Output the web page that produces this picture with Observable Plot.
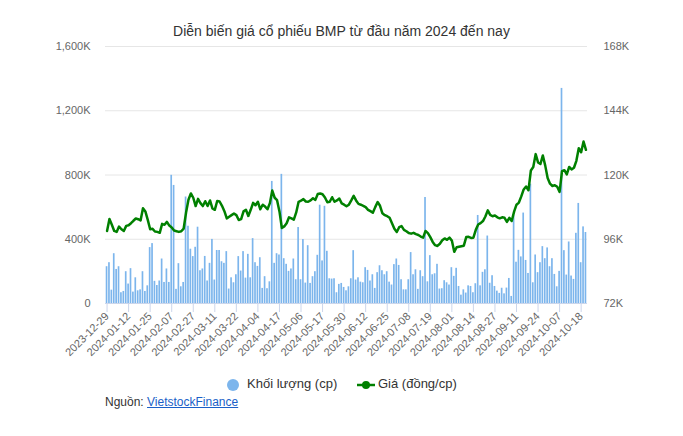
<!DOCTYPE html>
<html><head><meta charset="utf-8">
<script src="https://cdn.jsdelivr.net/npm/d3@7"></script>
<script src="https://cdn.jsdelivr.net/npm/@observablehq/plot@0.6"></script>
<style>
body{margin:0;background:#fff;font-family:"Liberation Sans",Arial,sans-serif;}
#wrap{position:relative;width:683px;height:436px;overflow:hidden;}
#title{position:absolute;top:23px;left:0;width:683px;text-align:center;font-size:14px;color:#333;z-index:2;}
#chart{position:absolute;top:36px;left:0;z-index:1;}
.leg{position:absolute;top:376px;font-size:13px;color:#333;white-space:nowrap;line-height:16px;}
.sym{position:absolute;}
#src{position:absolute;left:105px;top:395px;font-size:12px;color:#333;}
#src a{color:#1a5fc8;text-decoration:underline;}
</style></head>
<body><div id="wrap">
<div id="title">Diễn biến giá cổ phiếu BMP từ đầu năm 2024 đến nay</div>
<div id="chart"></div>
<svg class="sym" style="left:226px;top:378px" width="14" height="14"><circle cx="7" cy="7" r="6" fill="#7cb5ec"/></svg>
<div class="leg" style="left:247px">Khối lượng (cp)</div>
<svg class="sym" style="left:356px;top:378px" width="20" height="14"><line x1="1" y1="7" x2="19" y2="7" stroke="green" stroke-width="2.5"/><circle cx="10" cy="7" r="4" fill="green"/></svg>
<div class="leg" style="left:378px">Giá (đồng/cp)</div>
<div id="src">Nguồn: <a>VietstockFinance</a></div>
</div>
<script>
const dates = [
"2023-12-29",
"2024-01-02","2024-01-03","2024-01-04","2024-01-05","2024-01-08","2024-01-09","2024-01-10","2024-01-11","2024-01-12","2024-01-15","2024-01-16","2024-01-17","2024-01-18","2024-01-19","2024-01-22","2024-01-23","2024-01-24","2024-01-25","2024-01-26","2024-01-29","2024-01-30","2024-01-31",
"2024-02-01","2024-02-02","2024-02-05","2024-02-06","2024-02-07","2024-02-15","2024-02-16","2024-02-19","2024-02-20","2024-02-21","2024-02-22","2024-02-23","2024-02-26","2024-02-27","2024-02-28","2024-02-29",
"2024-03-01","2024-03-04","2024-03-05","2024-03-06","2024-03-07","2024-03-08","2024-03-11","2024-03-12","2024-03-13","2024-03-14","2024-03-15","2024-03-18","2024-03-19","2024-03-20","2024-03-21","2024-03-22","2024-03-25","2024-03-26","2024-03-27","2024-03-28","2024-03-29",
"2024-04-01","2024-04-02","2024-04-03","2024-04-04","2024-04-05","2024-04-08","2024-04-09","2024-04-10","2024-04-11","2024-04-12","2024-04-15","2024-04-16","2024-04-17","2024-04-19","2024-04-22","2024-04-23","2024-04-24","2024-04-25","2024-04-26",
"2024-05-02","2024-05-03","2024-05-06","2024-05-07","2024-05-08","2024-05-09","2024-05-10","2024-05-13","2024-05-14","2024-05-15","2024-05-16","2024-05-17","2024-05-20","2024-05-21","2024-05-22","2024-05-23","2024-05-24","2024-05-27","2024-05-28","2024-05-29","2024-05-30","2024-05-31",
"2024-06-03","2024-06-04","2024-06-05","2024-06-06","2024-06-07","2024-06-10","2024-06-11","2024-06-12","2024-06-13","2024-06-14","2024-06-17","2024-06-18","2024-06-19","2024-06-20","2024-06-21","2024-06-24","2024-06-25","2024-06-26","2024-06-27","2024-06-28",
"2024-07-01","2024-07-02","2024-07-03","2024-07-04","2024-07-05","2024-07-08","2024-07-09","2024-07-10","2024-07-11","2024-07-12","2024-07-15","2024-07-16","2024-07-17","2024-07-18","2024-07-19","2024-07-22","2024-07-23","2024-07-24","2024-07-25","2024-07-26","2024-07-29","2024-07-30","2024-07-31",
"2024-08-01","2024-08-02","2024-08-05","2024-08-06","2024-08-07","2024-08-08","2024-08-09","2024-08-12","2024-08-13","2024-08-14","2024-08-15","2024-08-16","2024-08-19","2024-08-20","2024-08-21","2024-08-22","2024-08-23","2024-08-26","2024-08-27","2024-08-28","2024-08-29","2024-08-30",
"2024-09-04","2024-09-05","2024-09-06","2024-09-09","2024-09-10","2024-09-11","2024-09-12","2024-09-13","2024-09-16","2024-09-17","2024-09-18","2024-09-19","2024-09-20","2024-09-23","2024-09-24","2024-09-25","2024-09-26","2024-09-27","2024-09-30",
"2024-10-01","2024-10-02","2024-10-03","2024-10-04","2024-10-07","2024-10-08","2024-10-09","2024-10-10","2024-10-11","2024-10-14","2024-10-15","2024-10-16","2024-10-17","2024-10-18","2024-10-21","2024-10-22"
];
// Khối lượng (nghìn cp)
const volumes = [
229,254,83,310,212,229,67,75,198,121,
217,71,160,79,85,198,75,110,348,373,
138,112,140,277,131,215,131,798,735,88,
248,104,131,663,481,338,292,350,475,204,
215,293,140,250,399,146,330,330,260,250,
323,90,160,129,179,292,202,323,158,306,
160,404,254,231,285,94,167,92,135,760,
250,310,302,804,279,244,200,215,277,148,
473,148,398,127,360,125,167,198,300,612,
265,605,325,154,152,154,67,119,125,100,
79,104,154,329,146,160,133,129,223,206,
140,179,94,192,235,204,179,198,133,115,
242,277,237,148,85,85,148,317,179,210,
88,204,167,660,135,298,179,185,244,90,
92,142,129,115,223,169,219,106,52,85,
65,110,106,67,123,548,110,194,210,420,
126,173,106,77,63,95,60,96,156,44,
546,257,331,290,563,268,187,743,129,302,
192,254,354,279,346,229,279,181,104,200,
1339,329,177,383,171,150,437,623,254,477,442
];
// Giá (nghìn đồng/cp)
const prices = [
99.1,103.6,101.4,99.1,98.75,100.75,99.75,99.1,101,101.25,
102,102.9,103.75,103.5,103,107.6,106.4,103.25,99.75,99.9,
98.9,98.75,98.4,101.75,101.4,102.5,101.1,100.4,99.25,99,
98.75,99,100,106,110.75,113.1,111.5,108.4,111.1,109.5,
108.4,110.2,108.4,110.5,107.5,107,110.3,110.1,108.5,106.5,
103.8,104.4,105,105.6,105,103.2,103.5,106.4,107,104.7,
107,109.6,108.7,110,107.2,108.9,108.2,107.2,109.5,114.2,
111.5,110.6,106.4,100.2,100.8,102,104.2,103.8,103.3,106,
110,110.4,111,110.1,110,110.5,111.3,110.7,112.9,113.1,
112.8,111.6,109.8,110,111.7,110,110.5,111.2,109.4,108.9,
108.3,108.9,110.5,112.2,110.5,109.2,108.9,108.5,108,107,
106.5,105.9,108,109.9,108.5,105.7,105,104.6,104,102,
99.9,98.7,100.5,100.9,99.5,99,98.3,98.1,98.4,97.9,
97.6,97,96.6,99.1,98.3,96.8,95,93.8,93.5,94.3,
95.6,96.3,95.8,96.6,95.5,91.3,93,93.2,93.4,93.6,
96.8,96.9,96.5,96.6,99.5,101.5,102,102.8,104.5,106.8,
105.1,104.6,104.9,104.2,103.8,104.2,104,102.5,104,102.8,
106.3,108.9,109.7,112,114.6,115.7,114.3,121.7,123,127.8,
124.7,124.1,127.3,123.5,118.9,116.75,115.9,116.2,115.6,113.7,
121.4,121.8,120.2,123,122.1,122.7,125.3,130,128.5,132.5,129.4
];
const tickDates = ["2023-12-29","2024-01-12","2024-01-25","2024-02-07","2024-02-27","2024-03-11","2024-03-22","2024-04-04","2024-04-17","2024-05-06","2024-05-17","2024-05-30","2024-06-12","2024-06-25","2024-07-08","2024-07-19","2024-08-01","2024-08-14","2024-08-27","2024-09-11","2024-09-24","2024-10-07","2024-10-18"];
const volTicks = [0,400,800,1200,1600];
const priceTicks = [72,96,120,144,168];

const p2v = d3.scaleLinear([72,168],[0,1600]);
const rows = dates.map((d,i)=>({date:d, vol:volumes[i], price:prices[i]}));
const fmt = d3.format(",");

const chart = Plot.plot({
  width:683, height:325,
  marginTop:10, marginBottom:58, marginLeft:105, marginRight:96,
  style:{fontFamily:'"Liberation Sans", Arial, sans-serif', fontSize:"11px", color:"#666", background:"transparent", overflow:"visible"},
  x:{type:"band", domain:dates, padding:0.3},
  y:{domain:[0,1600]},
  marks:[
    Plot.ruleY(volTicks.slice(1), {stroke:"#e6e6e6"}),
    Plot.axisY(volTicks, {anchor:"left", tickSize:0, tickPadding:15, label:null, tickFormat:d => d===0 ? "0" : fmt(d)+"K"}),
    Plot.axisY(priceTicks.map(p=>p2v(p)), {anchor:"right", tickSize:0, tickPadding:16, label:null, tickFormat:d => fmt(Math.round(p2v.invert(d)))+"K"}),
    Plot.barY(rows, {x:"date", y:"vol", fill:"#7cb5ec"}),
    Plot.ruleY([0], {stroke:"#ccd6eb"}),
    Plot.line(rows, {x:"date", y:d => p2v(d.price), stroke:"green", strokeWidth:2.5, strokeLinejoin:"round"}),
    Plot.axisX(tickDates, {anchor:"bottom", tickSize:9, stroke:"#ccd6eb", strokeOpacity:1, tickPadding:2, tickRotate:-45, label:null})
  ]
});
document.getElementById("chart").appendChild(chart);
</script>
</body></html>
